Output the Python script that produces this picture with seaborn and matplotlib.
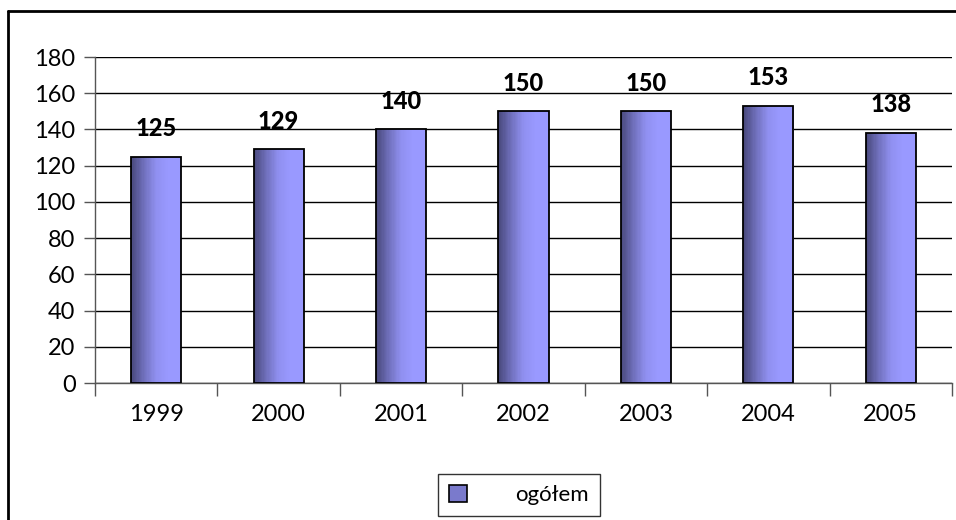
import numpy as np
import pandas as pd
import matplotlib
matplotlib.use("Agg")
import matplotlib.pyplot as plt
import seaborn as sns
from matplotlib.colors import LinearSegmentedColormap
from matplotlib.patches import Patch
from matplotlib.lines import Line2D

# ============================================================================
# DATA
# ============================================================================

years = ["1999", "2000", "2001", "2002", "2003", "2004", "2005"]
values = [125, 129, 140, 150, 150, 153, 138]
series_name = "ogółem"
y_ticks = [0, 20, 40, 60, 80, 100, 120, 140, 160, 180]

df = pd.DataFrame({"rok": years, "liczba": values})

# ============================================================================
# STYLE
# ============================================================================

sns.set_theme(style="white")
plt.rcParams["font.family"] = ["Lato", "DejaVu Sans"]
plt.rcParams["text.color"] = "black"
plt.rcParams["xtick.color"] = "black"
plt.rcParams["ytick.color"] = "black"

bar_cmap = LinearSegmentedColormap.from_list(
    "excel_blue", ["#4a4a7e", "#7070bc", "#9090f0", "#9999ff", "#9999ff"]
)

W, H = 956, 520
fig = plt.figure(figsize=(W / 100, H / 100), dpi=100)
fig.patch.set_facecolor("white")

ax = fig.add_axes([95 / W, 1 - 383 / H, (952 - 95) / W, (383 - 57) / H])

# ============================================================================
# BARS
# ============================================================================

sns.barplot(
    data=df,
    x="rok",
    y="liczba",
    ax=ax,
    width=0.41,
    color="#9999ff",
    saturation=1,
    edgecolor="black",
    linewidth=1.3,
    zorder=3,
)

# horizontal gradient inside each bar (dark on the left, light on the right)
n_slices = 40
for patch in list(ax.patches):
    bb = patch.get_bbox()
    x_left = min(bb.x0, bb.x1)
    width = abs(bb.x1 - bb.x0)
    dw = width / n_slices
    for k in range(n_slices):
        ax.bar(
            x_left + k * dw,
            bb.y1 - bb.y0,
            width=dw * 1.05,
            bottom=bb.y0,
            align="edge",
            color=bar_cmap(k / (n_slices - 1)),
            linewidth=0,
            zorder=2.9,
        )
    patch.set_facecolor("none")

ax.bar_label(
    ax.containers[0],
    labels=[str(v) for v in values],
    padding=12,
    fontsize=17,
    fontweight="black",
    color="black",
)

# ============================================================================
# AXES
# ============================================================================

ax.set_xlim(-0.5, len(years) - 0.5)
ax.set_ylim(0, 180)
ax.set_yticks(y_ticks)
ax.set_xlabel("")
ax.set_ylabel("")

ax.yaxis.grid(True, color="black", linewidth=1.0)
ax.set_axisbelow(True)

for side in ["top", "right"]:
    ax.spines[side].set_visible(False)
ax.spines["left"].set_color("#555555")
ax.spines["bottom"].set_color("#555555")
ax.spines["left"].set_linewidth(1.0)
ax.spines["bottom"].set_linewidth(1.0)

ax.tick_params(axis="y", length=8, width=1, color="#555555", labelcolor="black",
               labelsize=17, pad=6, left=True)
ax.set_xticks(np.arange(-0.5, len(years), 1.0), minor=True)
ax.tick_params(axis="x", which="major", length=0, labelcolor="black", labelsize=17, pad=15)
ax.tick_params(axis="x", which="minor", length=9, width=1, color="#555555", bottom=True)

# ============================================================================
# LEGEND & FRAME
# ============================================================================

handle = Patch(facecolor="#7a7acc", edgecolor="black", linewidth=1.2)
leg = fig.legend(
    [handle],
    [series_name],
    loc="center",
    bbox_to_anchor=(519 / W, 1 - 495 / H),
    frameon=True,
    fancybox=False,
    edgecolor="black",
    fontsize=16,
    handlelength=0.8,
    handleheight=0.8,
    handletextpad=2.2,
    borderpad=0.5,
)
leg.get_frame().set_linewidth(1.0)

fig.add_artist(Line2D([8 / W, 8 / W], [0, 1 - 11 / H], color="black", lw=2, transform=fig.transFigure))
fig.add_artist(Line2D([8 / W, 1], [1 - 11 / H, 1 - 11 / H], color="black", lw=2, transform=fig.transFigure))

fig.savefig("out.png", dpi=100)
